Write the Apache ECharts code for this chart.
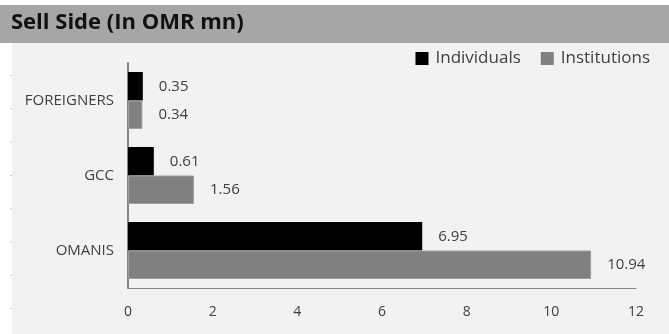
<!DOCTYPE html>
<html>
<head>
<meta charset="utf-8">
<script src="https://cdn.jsdelivr.net/npm/echarts@6/dist/echarts.min.js"></script>
<style>
  html, body { margin: 0; padding: 0; background: #ffffff; }
  #chart { width: 669px; height: 334px; }
</style>
</head>
<body>
<div id="chart"></div>
<script>
// Sell-side trading value by investor group (OMR million)
const categories = ['OMANIS', 'GCC', 'FOREIGNERS'];
const individuals = [6.95, 0.61, 0.35];
const institutions = [10.94, 1.56, 0.34];
const xTicks = [0, 2, 4, 6, 8, 10, 12];

const FONT = '"Open Sans", "Noto Sans", sans-serif';
const TEXT = '#404040';

const chart = echarts.init(document.getElementById('chart'), null, { renderer: 'canvas' });

// small edge markers on the left margin of the panel
const edgeDots = [];
for (let i = 0; i < 8; i++) {
  edgeDots.push({
    type: 'rect',
    shape: { x: 10, y: 75 + i * 33.3, width: 2, height: 1 },
    style: { fill: '#c8c8c8' },
    silent: true
  });
}

const valueLabel = {
  show: true, position: 'right', distance: 16,
  color: TEXT, fontSize: 15, fontFamily: FONT,
  formatter: p => p.value.toFixed(2)
};

chart.setOption({
  animation: false,
  backgroundColor: '#ffffff',
  textStyle: { fontFamily: FONT },
  graphic: [
    { type: 'rect', z: -10, shape: { x: 0, y: 5, width: 669, height: 38 }, style: { fill: '#a6a6a6' }, silent: true },
    { type: 'rect', z: -10, shape: { x: 12, y: 43, width: 657, height: 291 }, style: { fill: '#f2f2f2' }, silent: true },
    {
      type: 'text', left: 11, top: 12,
      style: { text: 'Sell Side (In OMR mn)', font: 'bold 22px ' + FONT, fill: '#111111' }
    }
  ].concat(edgeDots),
  legend: {
    data: ['Individuals', 'Institutions'],
    right: 14, top: 45,
    itemWidth: 13, itemHeight: 13, itemGap: 20,
    icon: 'rect',
    itemStyle: { borderWidth: 0 },
    textStyle: { color: TEXT, fontSize: 17, fontFamily: FONT, padding: [0, 0, 0, 2] }
  },
  grid: { left: 128, right: 33, top: 63, bottom: 46, containLabel: false },
  xAxis: {
    type: 'value', min: 0, max: 12, interval: 2,
    axisLine: { show: true, lineStyle: { color: '#868686', width: 1 } },
    axisTick: { show: false },
    splitLine: { show: false },
    axisLabel: {
      color: TEXT, fontSize: 14, margin: 17, fontFamily: FONT,
      formatter: v => (xTicks.indexOf(v) >= 0 ? String(v) : '')
    }
  },
  yAxis: {
    type: 'category', data: categories,
    axisLine: { show: true, lineStyle: { color: '#868686', width: 2 } },
    axisTick: { show: false },
    axisLabel: { color: TEXT, fontSize: 15, margin: 14, fontFamily: FONT }
  },
  series: [
    {
      name: 'Individuals', type: 'bar', data: individuals,
      barGap: '0%', barCategoryGap: '24%',
      itemStyle: { color: '#000000' },
      label: valueLabel
    },
    {
      name: 'Institutions', type: 'bar', data: institutions,
      barGap: '0%', barCategoryGap: '24%',
      itemStyle: { color: '#808080', borderColor: '#a0a0a0', borderWidth: 1 },
      label: valueLabel
    }
  ]
});
</script>
</body>
</html>
